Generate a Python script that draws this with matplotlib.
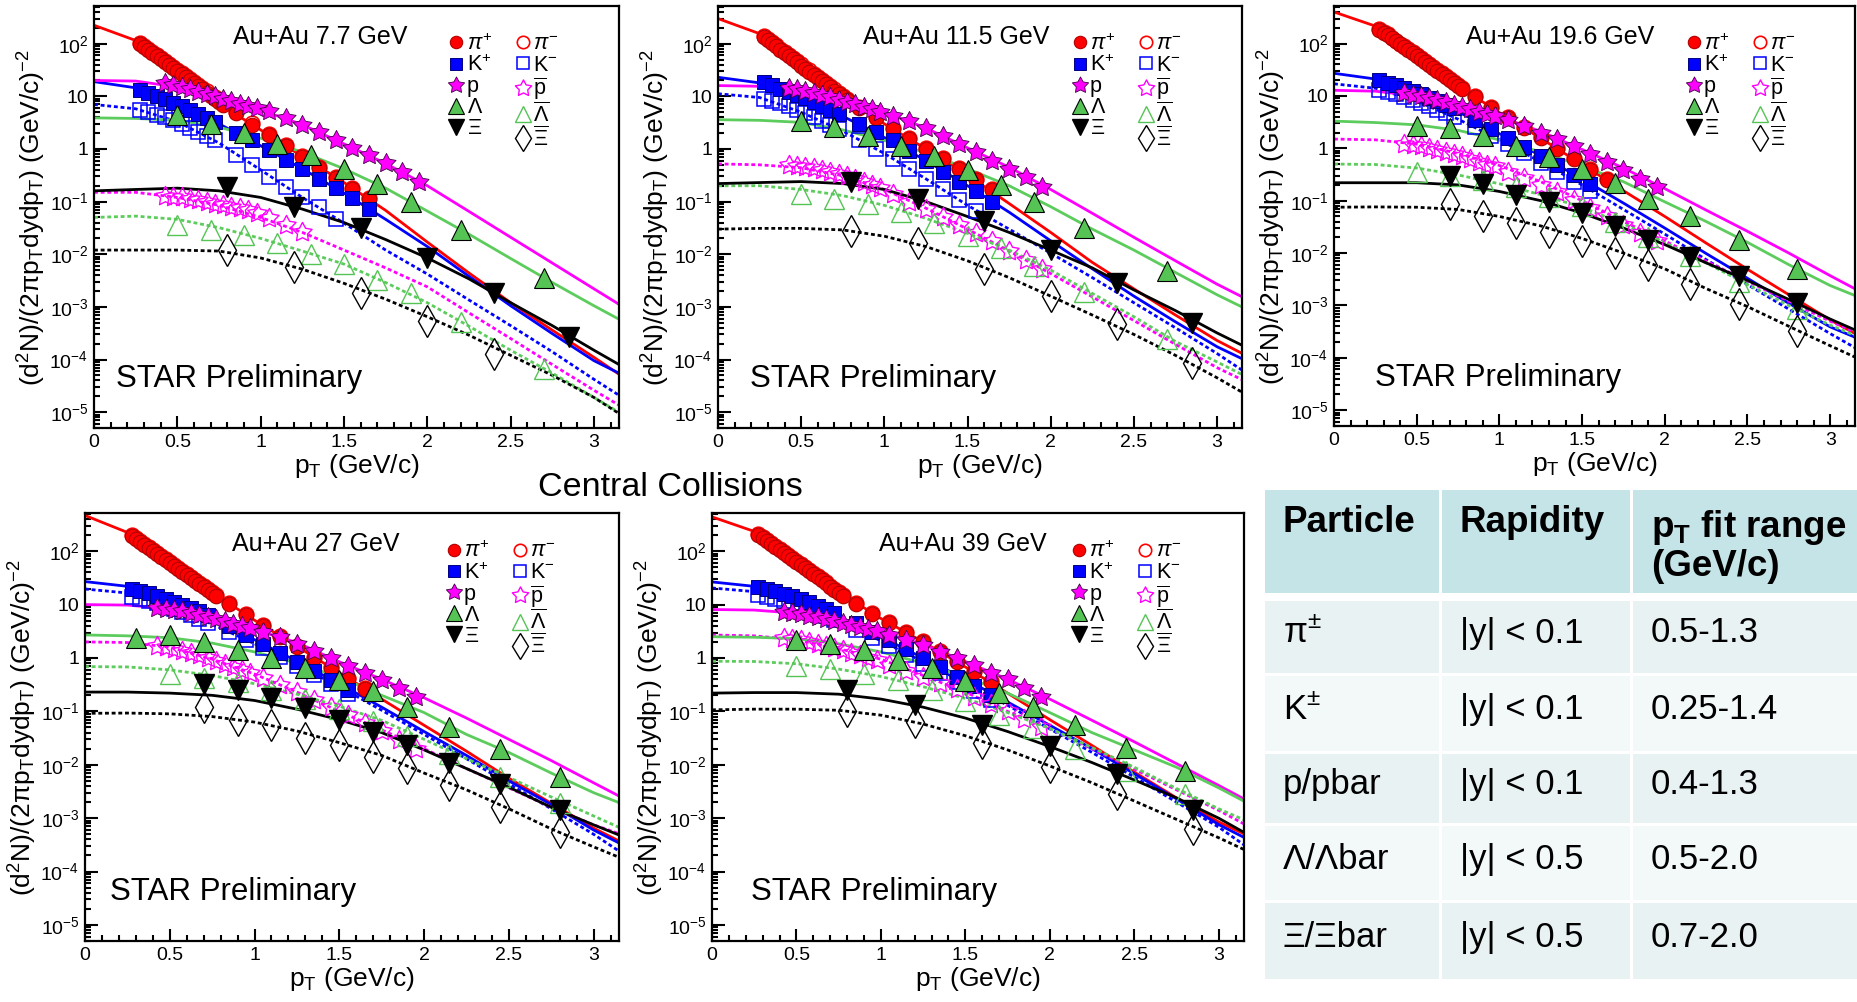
import numpy as np
import matplotlib
matplotlib.use("Agg")
import matplotlib.pyplot as plt
from matplotlib.patches import Rectangle
from matplotlib.path import Path
from matplotlib.ticker import LogLocator, MultipleLocator, NullFormatter, FuncFormatter

plt.rcParams["font.family"] = ["Liberation Sans", "DejaVu Sans"]
plt.rcParams["mathtext.fontset"] = "custom"
plt.rcParams["mathtext.rm"] = "Liberation Sans"
plt.rcParams["mathtext.it"] = "Liberation Sans:italic"
plt.rcParams["mathtext.bf"] = "Liberation Sans:bold"

nan = np.nan

# ---------------- data ----------------
energies = ["7.7", "11.5", "19.6", "27", "39"]

fit_pt = [0, 0.25, 0.5, 0.75, 1.0, 1.25, 1.5, 1.75, 2.0, 2.25, 2.5, 2.75, 3.0, 3.16]

pi_pt = [0.275, 0.3, 0.325, 0.35, 0.375, 0.4, 0.425, 0.45, 0.475, 0.5, 0.525, 0.55, 0.575,
         0.6, 0.625, 0.65, 0.675, 0.7, 0.725, 0.75, 0.775, 0.85, 0.95, 1.05, 1.15, 1.25,
         1.35, 1.45, 1.55, 1.65]
k_pt = [0.275, 0.325, 0.375, 0.425, 0.475, 0.525, 0.575, 0.625, 0.675, 0.725, 0.85, 0.95,
        1.05, 1.15, 1.25, 1.35, 1.45, 1.55, 1.65]
p_pt = [0.425, 0.475, 0.525, 0.575, 0.625, 0.675, 0.725, 0.775, 0.825, 0.875, 0.925, 0.975,
        1.05, 1.15, 1.25, 1.35, 1.45, 1.55, 1.65, 1.75, 1.85, 1.95]

pi_plus = [
    [100, 87.5, 76.5, 67, 58.6, 51.3, 44.9, 39.3, 34.4, 30.1, 26.3, 23, 20.1, 17.6, 15.4, 13.5,
     11.8, 10.3, 9.0, 7.9, 6.9, 4.9, 2.9, 1.85, 1.15, 0.71, 0.44, 0.275, 0.174, 0.11],
    [134, 117, 102, 88.5, 77, 67, 58.5, 51, 44.5, 38.5, 33.5, 29.5, 25.5, 22.5, 19.5, 17,
     14.8, 12.9, 11.2, 9.8, 8.5, 5.9, 3.8, 2.4, 1.55, 1.0, 0.64, 0.41, 0.26, 0.165],
    [185, 162, 143, 125, 110, 96.5, 85, 74.5, 65.5, 57.5, 50.5, 44.3, 38.9, 34.2, 30, 26.3,
     23.1, 20.3, 17.8, 15.7, 13.8, 9.6, 6.0, 3.8, 2.4, 1.55, 0.98, 0.62, 0.39, 0.25],
    [195, 171, 150, 132, 116, 102, 89.5, 78.5, 69, 60.5, 53, 46.5, 41, 36, 31.5, 27.7,
     24.3, 21.3, 18.7, 16.4, 14.4, 10.1, 6.3, 4.0, 2.5, 1.6, 1.0, 0.64, 0.41, 0.26],
    [205, 180, 157, 138, 121, 106, 93, 81.5, 71.5, 62.5, 55, 48, 42, 37, 32.5, 28.5,
     25, 21.8, 19.1, 16.8, 14.7, 10.2, 6.8, 4.5, 3.0, 2.0, 1.3, 0.85, 0.55, 0.36],
]
pi_minus = [
    [104, 91, 80, 70, 61, 53.5, 47, 41, 36, 31.5, 27.5, 24, 21, 18.4, 16.1, 14.1, 12.4, 10.8,
     9.5, 8.3, 7.3, 5.1, 3.05, 1.95, 1.2, 0.75, 0.46, 0.29, 0.182, 0.116],
    [140, 122, 107, 92.5, 80.5, 70, 61, 53.5, 46.5, 40.5, 35, 31, 26.8, 23.5, 20.5, 17.8,
     15.5, 13.5, 11.7, 10.2, 8.9, 6.2, 4.0, 2.5, 1.62, 1.05, 0.67, 0.43, 0.27, 0.172],
    [192, 168, 149, 130, 114, 100, 88.5, 77.5, 68, 60, 52.5, 46, 40.5, 35.5, 31.2, 27.4,
     24, 21.1, 18.5, 16.3, 14.4, 10, 6.25, 3.95, 2.5, 1.61, 1.02, 0.65, 0.41, 0.26],
    [203, 178, 156, 137, 121, 106, 93, 81.5, 72, 63, 55, 48.5, 42.5, 37.5, 32.8, 28.8,
     25.3, 22.2, 19.5, 17.1, 15, 10.5, 6.55, 4.15, 2.6, 1.67, 1.04, 0.67, 0.43, 0.27],
    [213, 187, 163, 143, 126, 110, 97, 85, 74.5, 65, 57, 50, 43.7, 38.5, 33.8, 29.6,
     26, 22.7, 19.9, 17.5, 15.3, 10.6, 7.1, 4.7, 3.1, 2.08, 1.35, 0.88, 0.57, 0.37],
]
k_plus = [
    [13, 11.5, 10, 8.8, 7.6, 6.5, 5.5, 4.6, 3.9, 3.3, 2.0, 1.45, 0.95, 0.63, 0.42, 0.27, 0.18, 0.115, 0.072],
    [18.6, 16.2, 14, 12.2, 10.5, 9.1, 7.8, 6.6, 5.6, 4.7, 3.0, 2.1, 1.45, 0.9, 0.58, 0.37, 0.24, 0.16, 0.1],
    [20, 18, 16, 14.2, 12.4, 10.8, 9.3, 8.0, 6.8, 5.8, 3.5, 2.3, 1.6, 1.08, 0.72, 0.47, 0.31, 0.21],
    [20, 18.3, 16.5, 14.7, 13, 11.4, 10, 8.7, 7.5, 6.4, 4.0, 2.7, 1.85, 1.25, 0.85, 0.57, 0.38, 0.25],
    [21, 19.5, 17.8, 16, 14.3, 12.6, 11, 9.5, 8.2, 7.0, 4.5, 3.1, 2.15, 1.45, 1.0, 0.67, 0.45, 0.3, 0.2],
]
k_minus = [
    [5.4, 5.0, 4.5, 4.0, 3.5, 3.0, 2.55, 2.1, 1.75, 1.45, 0.76, 0.49, 0.29, 0.19, 0.12, 0.08, 0.047],
    [9.0, 8.2, 7.4, 6.5, 5.6, 4.8, 4.0, 3.4, 2.8, 2.35, 1.5, 1.0, 0.65, 0.42, 0.27, 0.17, 0.105, 0.067],
    [13, 12, 10.8, 9.6, 8.5, 7.4, 6.4, 5.5, 4.7, 4.0, 2.6, 1.75, 1.2, 0.8, 0.53, 0.35, 0.23, 0.15],
    [14, 13, 11.8, 10.6, 9.4, 8.3, 7.3, 6.3, 5.4, 4.6, 3.1, 2.2, 1.55, 1.05, 0.72, 0.48, 0.32, 0.21],
    [15, 14, 12.8, 11.6, 10.4, 9.2, 8.1, 7.0, 6.0, 5.1, 3.4, 2.4, 1.65, 1.13, 0.77, 0.52, 0.35, 0.24, 0.16],
]
proton = [
    [18, 16.5, 15, 13.5, 12, 11, 10, 9, 8, 7.2, 6.5, 5.9, 5.2, 3.9, 2.9, 2.1, 1.5, 1.05, 0.76, 0.53, 0.37, 0.24],
    [14.5, 13.5, 12.5, 11.5, 10.5, 9.6, 8.7, 7.9, 7.1, 6.4, 5.7, 5.1, 4.3, 3.4, 2.5, 1.8, 1.25, 0.87, 0.6, 0.42, 0.29, 0.19],
    [11.3, 10.6, 9.9, 9.1, 8.3, 7.5, 6.8, 6.2, 5.6, 5.0, 4.5, 4.1, 3.4, 2.7, 2.0, 1.5, 1.1, 0.78, 0.54, 0.38, 0.26, 0.18],
    [8.8, 8.4, 8.0, 7.5, 7.0, 6.4, 5.9, 5.4, 4.9, 4.4, 4.0, 3.6, 3.1, 2.45, 1.85, 1.35, 1.0, 0.72, 0.53, 0.38, 0.27, 0.19],
    [7.2, 6.9, 6.6, 6.2, 5.8, 5.4, 5.0, 4.6, 4.2, 3.8, 3.5, 3.2, 2.7, 2.2, 1.75, 1.3, 1.0, 0.74, 0.53, 0.4, 0.27, 0.19],
]
pbar = [
    [0.13, 0.125, 0.12, 0.11, 0.105, 0.1, 0.09, 0.085, 0.08, 0.075, 0.068, 0.06, 0.048, 0.036, 0.027],
    [0.5, 0.48, 0.46, 0.43, 0.4, 0.37, 0.33, 0.3, 0.27, 0.24, 0.21, 0.18, 0.14, 0.1, 0.072, 0.05, 0.036, 0.025, 0.018, 0.0115, 0.0078, 0.0052],
    [1.2, 1.15, 1.1, 1.0, 0.93, 0.85, 0.78, 0.7, 0.62, 0.55, 0.49, 0.45, 0.35, 0.27, 0.2, 0.145, 0.105, 0.072, 0.05, 0.034, 0.024, 0.017],
    [1.7, 1.6, 1.5, 1.38, 1.25, 1.12, 1.0, 0.89, 0.78, 0.68, 0.6, 0.52, 0.42, 0.31, 0.23, 0.165, 0.12, 0.085, 0.06, 0.042, 0.029, 0.02],
    [2.4, 2.3, 2.15, 2.0, 1.85, 1.7, 1.55, 1.4, 1.25, 1.12, 1.0, 0.9, 0.75, 0.58, 0.45, 0.34, 0.26, 0.19, 0.14, 0.1, 0.072, 0.052],
]

lam_pt = [
    [0.5, 0.7, 0.9, 1.1, 1.3, 1.5, 1.7, 1.9, 2.2, 2.7],
    [0.5, 0.7, 0.9, 1.1, 1.3, 1.5, 1.7, 1.9, 2.2, 2.7],
    [0.5, 0.7, 0.9, 1.1, 1.3, 1.5, 1.7, 1.9, 2.15, 2.45, 2.8],
    [0.3, 0.5, 0.7, 0.9, 1.1, 1.3, 1.5, 1.7, 1.9, 2.15, 2.45, 2.8],
    [0.5, 0.7, 0.9, 1.1, 1.3, 1.5, 1.7, 1.9, 2.15, 2.45, 2.8],
]
lam = [
    [4.4, 3.0, 2.0, 1.26, 0.76, 0.42, 0.22, 0.1, 0.029, 3.5e-3],
    [3.4, 2.6, 1.8, 1.16, 0.72, 0.4, 0.21, 0.1, 0.032, 4.8e-3],
    [2.7, 2.4, 1.75, 1.1, 0.68, 0.4, 0.22, 0.11, 0.051, 0.018, 5e-3],
    [2.35, 2.7, 2.0, 1.4, 1.0, 0.64, 0.39, 0.24, 0.12, 0.051, 0.02, 5.8e-3],
    [2.2, 1.8, 1.4, 0.93, 0.65, 0.37, 0.22, 0.12, 0.056, 0.021, 7.5e-3],
]
lambar = [
    [0.036, 0.029, 0.023, 0.016, 0.01, 0.0065, 0.0032, 0.0018, 5.2e-4, 6.6e-5],
    [0.14, 0.11, 0.09, 0.063, 0.04, 0.022, 0.013, 5.9e-3, 1.9e-3, 2.5e-4],
    [0.36, 0.3, 0.25, 0.18, 0.12, 0.08, 0.039, 0.02, 8.9e-3, 2.8e-3, 8.6e-4],
    [nan, 0.5, 0.43, 0.36, 0.25, 0.17, 0.11, 0.065, 0.035, 0.016, 6e-3, 1.9e-3],
    [0.7, 0.62, 0.5, 0.38, 0.25, 0.155, 0.087, 0.049, 0.02, 7.5e-3, 2.8e-3],
]

xi_pt = [
    [0.8, 1.2, 1.6, 2.0, 2.4, 2.85],
    [0.8, 1.2, 1.6, 2.0, 2.4, 2.85],
    [0.7, 0.9, 1.1, 1.3, 1.5, 1.7, 1.9, 2.15, 2.45, 2.8],
    [0.7, 0.9, 1.1, 1.3, 1.5, 1.7, 1.9, 2.15, 2.45, 2.8],
    [0.8, 1.2, 1.6, 2.0, 2.4, 2.85],
]
xi = [
    [0.19, 0.08, 0.031, 0.0084, 0.0018, 2.7e-4],
    [0.24, 0.11, 0.042, 0.012, 2.9e-3, 5e-4],
    [0.3, 0.21, 0.13, 0.093, 0.058, 0.033, 0.018, 8.3e-3, 3.7e-3, 1.1e-3],
    [0.33, 0.25, 0.18, 0.115, 0.07, 0.041, 0.023, 0.011, 4.4e-3, 1.4e-3],
    [0.25, 0.13, 0.056, 0.022, 6.6e-3, 1.4e-3],
]
xibar = [
    [0.012, 0.0058, 0.0018, 5.5e-4, 1.3e-4, nan],
    [0.028, 0.016, 5.3e-3, 1.6e-3, 4.7e-4, 8.6e-5],
    [0.085, 0.05, 0.037, 0.025, 0.017, 0.01, 5.8e-3, 2.6e-3, 1.05e-3, 3.2e-4],
    [0.12, 0.07, 0.056, 0.032, 0.023, 0.014, 8.6e-3, 4.2e-3, 1.6e-3, 5.6e-4],
    [0.1, 0.062, 0.026, 8.9e-3, 2.8e-3, 6.2e-4],
]

# fit curves sampled at fit_pt
fit_pi = [
    [224, 115, 29, 7.2, 2.3, 0.72, 0.23, 0.068, 0.017, 4.4e-3, 1.2e-3, 3.6e-4, 1.1e-4, 5e-5],
    [300, 155, 38, 9.5, 3.0, 1.0, 0.32, 0.092, 0.026, 7.0e-3, 2.2e-3, 7e-4, 2.3e-4, 1.26e-4],
    [400, 215, 56, 15.5, 4.8, 1.55, 0.49, 0.155, 0.05, 0.0155, 4.9e-3, 1.6e-3, 5.3e-4, 2.8e-4],
    [468, 225, 62, 17, 5.1, 1.65, 0.53, 0.17, 0.055, 0.018, 5.6e-3, 1.9e-3, 6.5e-4, 3.6e-4],
    [440, 235, 64, 17.5, 5.5, 2.0, 0.68, 0.22, 0.07, 0.023, 7.3e-3, 2.4e-3, 8.5e-4, 4.9e-4],
]
fit_kp = [
    [19, 14.5, 7.2, 3.0, 1.15, 0.42, 0.145, 0.046, 0.014, 3.8e-3, 1.05e-3, 3.1e-4, 9.5e-5, 5.3e-5],
    [23, 18, 9.5, 4.2, 1.65, 0.6, 0.2, 0.063, 0.018, 5.3e-3, 1.6e-3, 5.2e-4, 1.75e-4, 1e-4],
    [27, 21, 11.5, 5.0, 1.9, 0.72, 0.26, 0.09, 0.03, 9.8e-3, 3.3e-3, 1.1e-3, 3.9e-4, 2.4e-4],
    [27, 22, 11.5, 5.2, 2.2, 0.87, 0.33, 0.12, 0.042, 0.015, 5e-3, 1.8e-3, 6e-4, 3.3e-4],
    [26.6, 22, 12.5, 5.8, 2.5, 1.0, 0.4, 0.15, 0.055, 0.02, 6.8e-3, 2.3e-3, 7.6e-4, 4.2e-4],
]
fit_km = [
    [7.0, 5.8, 3.3, 1.3, 0.4, 0.12, 0.039, 0.012, 4.2e-3, 1.35e-3, 4.4e-4, 1.4e-4, 4.2e-5, 2e-5],
    [11.2, 9.5, 5.0, 2.2, 0.82, 0.27, 0.085, 0.03, 0.0105, 3.6e-3, 1.2e-3, 4e-4, 1.3e-4, 6e-5],
    [17, 14, 8.0, 3.6, 1.45, 0.55, 0.2, 0.068, 0.023, 7.5e-3, 2.5e-3, 8.5e-4, 2.9e-4, 1.5e-4],
    [19.6, 16.5, 9.2, 4.3, 1.85, 0.75, 0.29, 0.105, 0.037, 0.013, 4.4e-3, 1.5e-3, 5e-4, 2.3e-4],
    [20.5, 17.5, 10.2, 4.9, 2.1, 0.85, 0.34, 0.13, 0.047, 0.017, 5.9e-3, 2e-3, 6.8e-4, 3e-4],
]
fit_p = [
    [20, 19.5, 15, 9.5, 5.5, 2.9, 1.25, 0.53, 0.2, 0.065, 0.021, 6.8e-3, 2.2e-3, 1.07e-3],
    [16, 15.5, 12.5, 8.2, 5.0, 2.5, 1.05, 0.45, 0.17, 0.06, 0.021, 7.5e-3, 2.7e-3, 1.5e-3],
    [12.8, 12.3, 10, 6.5, 4.0, 2.1, 0.95, 0.42, 0.17, 0.066, 0.026, 0.01, 3.7e-3, 2e-3],
    [10, 9.8, 8.3, 5.9, 3.4, 1.95, 0.85, 0.4, 0.18, 0.075, 0.03, 0.012, 4.6e-3, 2.5e-3],
    [8.1, 7.9, 6.9, 5.1, 3.1, 1.8, 0.86, 0.4, 0.17, 0.068, 0.027, 0.0105, 4.1e-3, 2.2e-3],
]
fit_pbar = [
    [0.15, 0.15, 0.12, 0.085, 0.05, 0.026, 0.012, 5.5e-3, 2.4e-3, 7.7e-4, 2.5e-4, 8e-5, 2.6e-5, 1.3e-5],
    [0.52, 0.5, 0.44, 0.31, 0.17, 0.075, 0.03, 0.0115, 4.3e-3, 1.55e-3, 5.5e-4, 1.95e-4, 7e-5, 4e-5],
    [1.5, 1.45, 1.2, 0.8, 0.47, 0.23, 0.1, 0.04, 0.017, 7e-3, 2.9e-3, 1.2e-3, 5e-4, 3e-4],
    [2.0, 1.95, 1.6, 0.95, 0.5, 0.23, 0.1, 0.045, 0.02, 8.5e-3, 3.7e-3, 1.6e-3, 7.5e-4, 5e-4],
    [2.7, 2.6, 2.2, 1.5, 0.95, 0.47, 0.23, 0.1, 0.048, 0.02, 8.3e-3, 3.4e-3, 1.4e-3, 7.5e-4],
]
fit_lam = [
    [3.9, 3.8, 3.5, 2.6, 1.6, 0.87, 0.42, 0.18, 0.066, 0.024, 8.3e-3, 2.9e-3, 1.05e-3, 5.6e-4],
    [3.6, 3.5, 3.2, 2.3, 1.45, 0.85, 0.42, 0.2, 0.08, 0.03, 0.012, 4.5e-3, 1.7e-3, 9.6e-4],
    [3.3, 3.1, 2.8, 2.2, 1.45, 0.85, 0.46, 0.23, 0.095, 0.04, 0.016, 6e-3, 2.4e-3, 1.5e-3],
    [2.7, 2.6, 2.4, 1.9, 1.3, 0.8, 0.44, 0.2, 0.095, 0.037, 0.017, 7e-3, 3e-3, 1.9e-3],
    [2.5, 2.45, 2.3, 1.85, 1.3, 0.8, 0.44, 0.22, 0.095, 0.04, 0.019, 9e-3, 3.7e-3, 2e-3],
]
fit_lambar = [
    [0.05, 0.053, 0.046, 0.032, 0.02, 0.0115, 6.5e-3, 2.9e-3, 1.2e-3, 4.3e-4, 1.5e-4, 5.5e-5, 1.9e-5, 9.5e-6],
    [0.2, 0.2, 0.17, 0.13, 0.085, 0.048, 0.025, 0.012, 5e-3, 1.8e-3, 6.5e-4, 2.2e-4, 9e-5, 5e-5],
    [0.5, 0.49, 0.42, 0.31, 0.21, 0.13, 0.075, 0.036, 0.016, 6.5e-3, 2.5e-3, 1e-3, 4.2e-4, 2.6e-4],
    [0.69, 0.68, 0.6, 0.47, 0.33, 0.21, 0.125, 0.068, 0.03, 0.013, 5.8e-3, 2.5e-3, 1.1e-3, 6.5e-4],
    [0.87, 0.86, 0.78, 0.62, 0.45, 0.29, 0.175, 0.095, 0.048, 0.021, 9e-3, 3.6e-3, 1.5e-3, 9e-4],
]
fit_xi = [
    [0.16, 0.17, 0.18, 0.16, 0.12, 0.072, 0.04, 0.019, 8.5e-3, 3.4e-3, 1.2e-3, 4.4e-4, 1.5e-4, 7.7e-5],
    [0.22, 0.23, 0.24, 0.22, 0.17, 0.1, 0.052, 0.026, 0.012, 5.5e-3, 2.1e-3, 8.5e-4, 3.2e-4, 1.8e-4],
    [0.22, 0.22, 0.22, 0.2, 0.15, 0.1, 0.058, 0.03, 0.0145, 6.5e-3, 3e-3, 1.3e-3, 5.5e-4, 3.3e-4],
    [0.23, 0.23, 0.22, 0.2, 0.16, 0.11, 0.07, 0.04, 0.019, 8.5e-3, 3.8e-3, 1.6e-3, 7.5e-4, 4.7e-4],
    [0.22, 0.225, 0.225, 0.21, 0.17, 0.12, 0.075, 0.042, 0.022, 0.011, 5.2e-3, 2.4e-3, 1e-3, 5.2e-4],
]
fit_xibar = [
    [0.012, 0.012, 0.012, 0.0115, 8.5e-3, 5.2e-3, 2.8e-3, 1.4e-3, 6.5e-4, 2.9e-4, 1.2e-4, 5e-5, 1.9e-5, 9e-6],
    [0.03, 0.031, 0.031, 0.029, 0.022, 0.014, 7.5e-3, 3.6e-3, 1.6e-3, 7e-4, 3e-4, 1.2e-4, 4.5e-5, 2.3e-5],
    [0.075, 0.076, 0.075, 0.068, 0.05, 0.033, 0.019, 0.01, 5e-3, 2.1e-3, 9.5e-4, 4e-4, 1.7e-4, 1e-4],
    [0.092, 0.093, 0.09, 0.08, 0.063, 0.043, 0.026, 0.015, 7e-3, 3.4e-3, 1.5e-3, 6.3e-4, 2.9e-4, 1.8e-4],
    [0.107, 0.11, 0.11, 0.105, 0.085, 0.058, 0.035, 0.019, 9.5e-3, 4.6e-3, 2.1e-3, 9.5e-4, 4.3e-4, 2.5e-4],
]

table_head = ["Particle", "Rapidity", "p$_{\\mathbf{T}}$ fit range\n(GeV/c)"]
table_particle = ["π$^{\\pm}$", "K$^{\\pm}$", "p/pbar", "Λ/Λbar", "Ξ/Ξbar"]
table_rapidity = ["|y| < 0.1", "|y| < 0.1", "|y| < 0.1", "|y| < 0.5", "|y| < 0.5"]
table_range = ["0.5-1.3", "0.25-1.4", "0.4-1.3", "0.5-2.0", "0.7-2.0"]

# ---------------- layout ----------------
W, H = 1858, 1002
fig = plt.figure(figsize=(W / 100, H / 100), dpi=100)


def px_axes(l, t, r, b):
    return fig.add_axes([l / W, 1 - b / H, (r - l) / W, (b - t) / H])


boxes = [(94, 6, 619, 428), (718, 6, 1242, 428), (1334, 6, 1855, 426),
         (85, 513, 619, 941), (712, 513, 1244, 941)]
title_x = [0.264, 0.276, 0.254, 0.275, 0.313]
star_x = [0.041, 0.061, 0.079, 0.047, 0.073]

# fat five-pointed star like ROOT marker 29
ang = np.pi / 2 + np.arange(11) * np.pi / 5
rad = np.where(np.arange(11) % 2 == 0, 1.0, 0.52)
STAR = Path(np.column_stack([rad * np.cos(ang), rad * np.sin(ang)]), closed=True)

RED, BLUE, MAG, GRN, GRNL = "#ff0000", "#0000ff", "#ff00ff", "#55c455", "#5ccc5c"
DOT = (0, (1.4, 1.0))
ytick_vals = [1e-5, 1e-4, 1e-3, 1e-2, 1e-1, 1, 10, 100]
ytick_labs = ["$10^{-5}$", "$10^{-4}$", "$10^{-3}$", "$10^{-2}$", "$10^{-1}$", "1", "10", "$10^{2}$"]

for i, e in enumerate(energies):
    ax = px_axes(*boxes[i])
    ax.set_yscale("log")
    ax.set_xlim(0, 3.15)
    ax.set_ylim(5e-6, 520)

    # fit curves
    ax.plot(fit_pt, fit_pi[i], color=RED, lw=2, zorder=2)
    ax.plot(fit_pt, fit_kp[i], color=BLUE, lw=2, zorder=2)
    ax.plot(fit_pt, fit_km[i], color=BLUE, lw=2, ls=DOT, zorder=2)
    ax.plot(fit_pt, fit_p[i], color=MAG, lw=2, zorder=2)
    ax.plot(fit_pt, fit_pbar[i], color=MAG, lw=2, ls=DOT, zorder=2)
    ax.plot(fit_pt, fit_lam[i], color=GRNL, lw=2, zorder=2)
    ax.plot(fit_pt, fit_lambar[i], color=GRNL, lw=2, ls=DOT, zorder=2)
    ax.plot(fit_pt, fit_xi[i], color="black", lw=2, zorder=2)
    ax.plot(fit_pt, fit_xibar[i], color="black", lw=2, ls=DOT, zorder=2)

    # data points
    h_pim, = ax.plot(pi_pt[:len(pi_minus[i])], pi_minus[i], "o", ms=10.5, mfc="none", mec=RED, mew=1.2, zorder=3)
    h_pip, = ax.plot(pi_pt[:len(pi_plus[i])], pi_plus[i], "o", ms=10.5, mfc=RED, mec="#b00000", mew=0.8, zorder=3)
    h_km, = ax.plot(k_pt[:len(k_minus[i])], k_minus[i], "s", ms=9.5, mfc="none", mec=BLUE, mew=1.1, zorder=3)
    h_kp, = ax.plot(k_pt[:len(k_plus[i])], k_plus[i], "s", ms=9.5, mfc=BLUE, mec="#000080", mew=0.7, zorder=3)
    h_pb, = ax.plot(p_pt[:len(pbar[i])], pbar[i], marker=STAR, ls="none", ms=14.5, mfc="none", mec=MAG, mew=1.0, zorder=3)
    h_p, = ax.plot(p_pt[:len(proton[i])], proton[i], marker=STAR, ls="none", ms=14.5, mfc=MAG, mec="#400040", mew=0.6, zorder=3)
    h_lb, = ax.plot(lam_pt[i], lambar[i], "^", ms=14, mfc="none", mec=GRN, mew=1.0, zorder=3)
    h_l, = ax.plot(lam_pt[i], lam[i], "^", ms=14, mfc=GRN, mec="black", mew=0.8, zorder=3)
    h_xb, = ax.plot(xi_pt[i], xibar[i], "d", ms=16, mfc="none", mec="black", mew=1.0, zorder=3)
    h_x, = ax.plot(xi_pt[i], xi[i], "v", ms=14, mfc="black", mec="black", zorder=3)

    handles = [h_pip, h_kp, h_p, h_l, h_x, h_pim, h_km, h_pb, h_lb, h_xb]
    labels = [r"$\pi^{+}$", "K$^{+}$", "p", r"$\Lambda$", r"$\Xi$",
              r"$\pi^{-}$", "K$^{-}$", r"$\overline{\rm p}$", r"$\overline{\Lambda}$", r"$\overline{\Xi}$"]
    ax.legend(handles, labels, ncol=2, loc="upper left", bbox_to_anchor=(0.675, 0.935),
              frameon=False, fontsize=15.5, handlelength=0.75, handletextpad=0.1,
              columnspacing=1.05, labelspacing=0.0, borderpad=0, borderaxespad=0,
              markerscale=0.85)

    ax.text(title_x[i], 0.927, f"Au+Au {e} GeV", transform=ax.transAxes, fontsize=18, va="center")
    ax.text(star_x[i], 0.115, "STAR Preliminary", transform=ax.transAxes, fontsize=22.5, va="center")

    # axes styling (ROOT-like)
    ax.set_yticks(ytick_vals, ytick_labs)
    ax.yaxis.set_minor_locator(LogLocator(base=10, subs=np.arange(2, 10) * 1.0, numticks=20))
    ax.yaxis.set_minor_formatter(NullFormatter())
    ax.xaxis.set_major_locator(MultipleLocator(0.5))
    ax.xaxis.set_minor_locator(MultipleLocator(0.1))
    ax.xaxis.set_major_formatter(FuncFormatter(lambda v, _: f"{v:g}"))
    ax.tick_params(which="both", direction="in", top=False, right=False, width=1.5)
    ax.tick_params(which="major", length=9, labelsize=14, pad=4)
    ax.tick_params(which="minor", length=4.5)
    for s in ax.spines.values():
        s.set_linewidth(1.6)
    ax.set_xlabel(r"p$_{\mathrm{T}}$ (GeV/c)", fontsize=19, labelpad=1)
    ax.set_ylabel(r"(d$^{2}$N)/(2πp$_{\mathrm{T}}$dydp$_{\mathrm{T}}$) (GeV/c)$^{-2}$", fontsize=19, labelpad=1)

fig.text(670 / W, 1 - 487 / H, "Central Collisions", fontsize=24.5, ha="center", va="center")

# ---------------- table ----------------
tab = px_axes(1265, 489, 1858, 980)
tab.set_xlim(1265, 1858)
tab.set_ylim(980, 489)
tab.axis("off")
cols = [(1265, 1439), (1442, 1630), (1633, 1858)]
rows = [(601, 673), (676, 751), (754, 823), (826, 900), (903, 979)]
row_colors = ["#e8f2f3", "#f3f8f9", "#e8f2f3", "#f3f8f9", "#e8f2f3"]
for (c0, c1) in cols:
    tab.add_patch(Rectangle((c0, 490), c1 - c0, 593 - 490, color="#c5e4e8", lw=0))
    for (r0, r1), rc in zip(rows, row_colors):
        tab.add_patch(Rectangle((c0, r0), c1 - c0, r1 - r0, color=rc, lw=0))

text_x = [1283, 1460, 1651]
tab.text(text_x[0], 523, table_head[0], fontsize=26.5, fontweight="bold", va="center")
tab.text(text_x[1], 523, table_head[1], fontsize=26.5, fontweight="bold", va="center")
tab.text(text_x[2], 546, table_head[2], fontsize=26.5, fontweight="bold", va="center", linespacing=1.05)
for j, (r0, r1) in enumerate(rows):
    yc = (r0 + r1) / 2 - 4
    tab.text(text_x[0], yc, table_particle[j], fontsize=25, va="center")
    tab.text(text_x[1], yc, table_rapidity[j], fontsize=25, va="center")
    tab.text(text_x[2], yc, table_range[j], fontsize=25, va="center")

fig.savefig("out.png", dpi=100)
